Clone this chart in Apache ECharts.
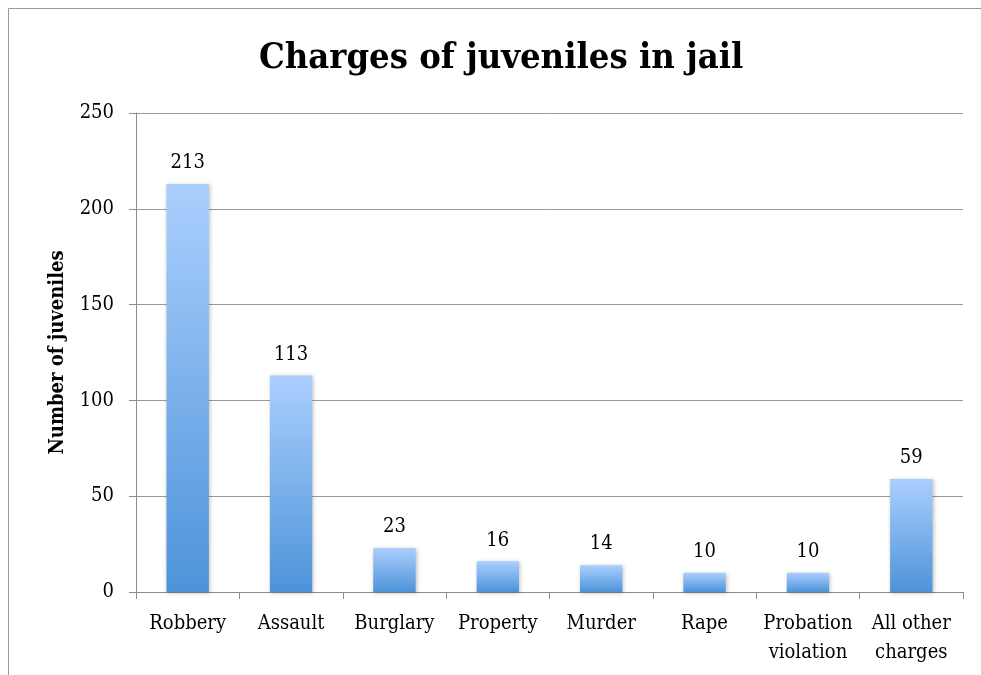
<!DOCTYPE html>
<html lang="en">
<head>
<meta charset="utf-8">
<script src="https://cdn.jsdelivr.net/npm/echarts@6/dist/echarts.min.js"></script>
<style>
	html, body { margin: 0; padding: 0; background: #fff; }
	#chart { width: 981px; height: 675px; }
</style>
</head>
<body>
<div id="chart"></div>
<script>
	// data
	var charges = ['Robbery', 'Assault', 'Burglary', 'Property', 'Murder', 'Rape', 'Probation\nviolation', 'All other\ncharges'];
	var juveniles = [213, 113, 23, 16, 14, 10, 10, 59];
	var yTicks = [0, 50, 100, 150, 200, 250];

	var serif = '"DejaVu Serif Condensed", "DejaVu Serif", serif';
	var chart = echarts.init(document.getElementById('chart'));

	chart.setOption({
		animation: false,
		title: {
			text: 'Charges of juveniles in jail',
			left: 254,
			top: 36,
			textStyle: { fontFamily: serif, fontSize: 36, fontWeight: 'bold', color: '#000' }
		},
		graphic: [{
			type: 'rect',
			shape: { x: 8.5, y: 8.5, width: 990, height: 700 },
			style: { fill: 'none', stroke: '#9a9a9a', lineWidth: 1 },
			silent: true
		}],
		grid: { left: 136, right: 18, top: 113, bottom: 83 },
		xAxis: {
			type: 'category',
			data: charges,
			axisLine: { lineStyle: { color: '#8c8c8c', width: 1 } },
			axisTick: { show: true, length: 7, lineStyle: { color: '#8c8c8c' } },
			axisLabel: { color: '#000', fontFamily: serif, fontSize: 20, margin: 17, lineHeight: 29, interval: 0 }
		},
		yAxis: {
			type: 'value',
			min: yTicks[0],
			max: yTicks[yTicks.length - 1],
			interval: 50,
			name: 'Number of juveniles',
			nameLocation: 'middle',
			nameGap: 68,
			nameTextStyle: { fontFamily: serif, fontSize: 20, fontWeight: 'bold', color: '#000' },
			axisLine: { show: true, lineStyle: { color: '#8c8c8c' } },
			axisTick: { show: true, length: 7, lineStyle: { color: '#8c8c8c' } },
			axisLabel: { color: '#000', fontFamily: serif, fontSize: 20, margin: 22 },
			splitLine: { lineStyle: { color: '#999999', width: 1 } }
		},
		series: [{
			type: 'bar',
			data: juveniles,
			barWidth: '41%',
			itemStyle: {
				color: new echarts.graphic.LinearGradient(0, 0, 0, 1, [
					{ offset: 0, color: '#abcffd' },
					{ offset: 1, color: '#4d93d9' }
				]),
				shadowColor: 'rgba(0,0,0,0.25)',
				shadowBlur: 4,
				shadowOffsetX: 1,
				shadowOffsetY: 1
			},
			label: {
				show: true,
				position: 'top',
				distance: 11,
				color: '#000',
				fontFamily: serif,
				fontSize: 20
			}
		}]
	});
</script>
</body>
</html>
